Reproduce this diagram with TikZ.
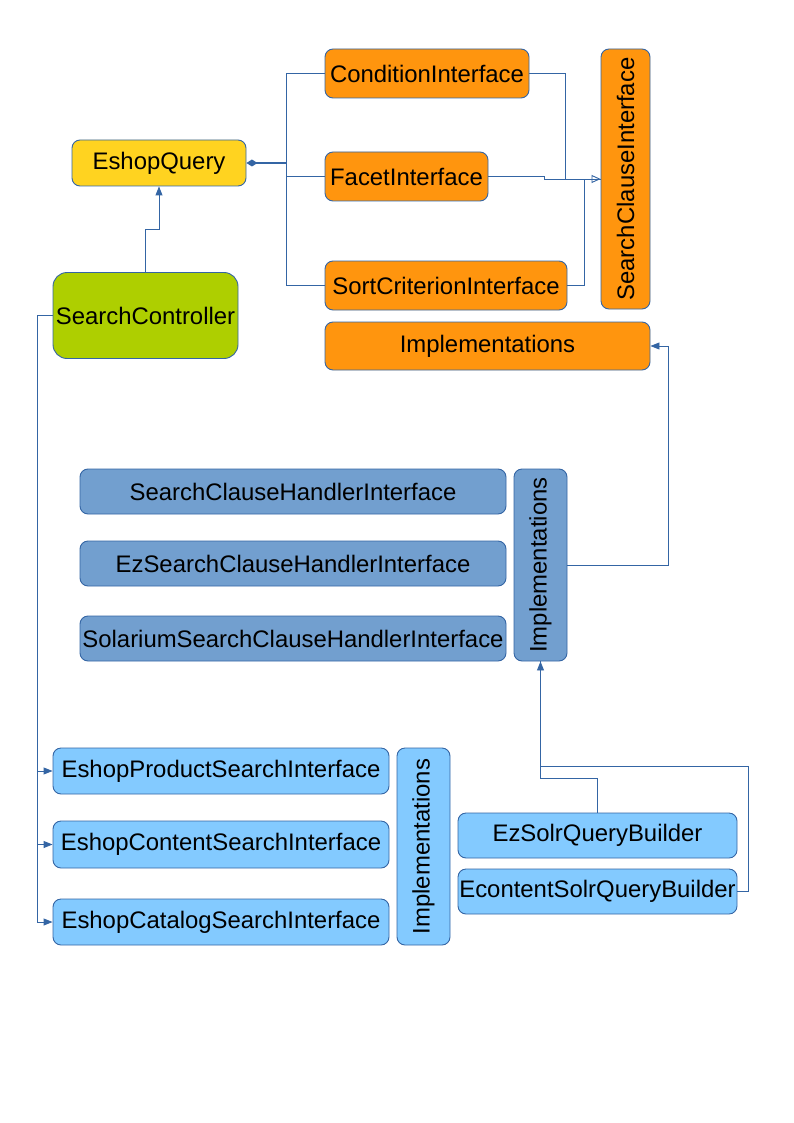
\documentclass[tikz,border=0pt]{standalone}
\usepackage{fontspec}
\setmainfont{Liberation Sans}
\usetikzlibrary{arrows.meta}
\definecolor{edge}{HTML}{3465A4}
\definecolor{yel}{HTML}{FFD320}
\definecolor{grn}{HTML}{AECF00}
\definecolor{ora}{HTML}{FF950E}
\definecolor{stl}{HTML}{729FCF}
\definecolor{sky}{HTML}{83CAFF}

\begin{document}
\begin{tikzpicture}[x=1pt,y=-1pt]
        \tikzset{box/.style={draw=edge,line width=0.9pt,rounded corners=8pt,inner sep=0pt,
                font=\fontsize{23.9}{29}\selectfont},
            link/.style={draw=edge,line width=0.9pt},
            arr/.style={link,-{Triangle[length=9pt,width=7pt]}},
            hollow/.style={link,-{Triangle[open,length=9pt,width=8pt,fill=white]}},
            dia/.style={link,line width=1.3pt,{Diamond[length=11pt,width=7pt]}-}}
        \useasboundingbox (0,0) rectangle (794,1123);
        % query side
        \node[box,fill=yel,minimum width=174pt,minimum height=46pt] (query) at (159,163) {EshopQuery};
        \node[box,fill=grn,rounded corners=14pt,minimum width=185pt,minimum height=86pt] (ctrl) at (145.5,315.5) {SearchController};
        \node[box,fill=ora,minimum width=204pt,minimum height=49pt] (cond) at (427,73.5) {ConditionInterface};
        \node[box,fill=ora,minimum width=163pt,minimum height=49pt] (facet) at (406.5,176.5) {FacetInterface};
        \node[box,fill=ora,minimum width=242pt,minimum height=49pt] (sort) at (446,285.5) {SortCriterionInterface};
        \node[box,fill=ora,minimum width=49pt,minimum height=260pt] (clause) at (625.5,179) {\rotatebox{90}{SearchClauseInterface}};
        \node[box,fill=ora,minimum width=325pt,minimum height=48pt] (implA) at (487.5,346) {Implementations};
        % handlers
        \node[box,fill=stl,minimum width=426pt,minimum height=45pt] (hA) at (293,491.5) {SearchClauseHandlerInterface};
        \node[box,fill=stl,minimum width=426pt,minimum height=45pt] (hB) at (293,563.5) {EzSearchClauseHandlerInterface};
        \node[box,fill=stl,minimum width=426pt,minimum height=45pt] (hC) at (293,638.5) {SolariumSearchClauseHandlerInterface};
        \node[box,fill=stl,minimum width=53pt,minimum height=192pt] (implB) at (540.5,565) {\rotatebox{90}{Implementations}};
        % eshop search
        \node[box,fill=sky,minimum width=336pt,minimum height=46pt] (eA) at (221,771) {EshopProductSearchInterface};
        \node[box,fill=sky,minimum width=336pt,minimum height=47pt] (eB) at (221,844.5) {EshopContentSearchInterface};
        \node[box,fill=sky,minimum width=336pt,minimum height=46pt] (eC) at (221,922) {EshopCatalogSearchInterface};
        \node[box,fill=sky,minimum width=53pt,minimum height=197pt] (implC) at (423.5,846.5) {\rotatebox{90}{Implementations}};
        \node[box,fill=sky,minimum width=279pt,minimum height=45pt] (bA) at (597.5,835.5) {EzSolrQueryBuilder};
        \node[box,fill=sky,minimum width=279pt,minimum height=45pt] (bB) at (597.5,891.5) {EcontentSolrQueryBuilder};

        \coordinate (qj) at (286,163);
        \draw[dia] (query.east) -- (qj);
        \draw[link] (cond.west) -| (qj |- sort.west) -- (sort.west);
        \draw[link] (qj |- facet.west) -- (facet.west);
        \draw[hollow] (cond.east) -- ++(36,0) |- (clause.west);
        \draw[link] (facet.east) -- ++(56,0) |- (clause.west);
        \draw[link] (sort.east) -- ++(17,0) |- (clause.west);
        \draw[arr] (ctrl.north) -- ++(0,-43) -| (query.south);
        \draw[arr] (implB.east) -- ++(101,0) |- (implA.east);
        \draw[arr] (bA.north) -- ++(0,-34) -| (implB.south);
        \draw[link] (bB.east) -- ++(11,0) -- ++(0,-125) -| (implB.south);
        \foreach \n in {eA,eB,eC}
            \draw[arr] (ctrl.west) -- ++(-15,0) |- (\n.west);
    \end{tikzpicture}
\end{document}
